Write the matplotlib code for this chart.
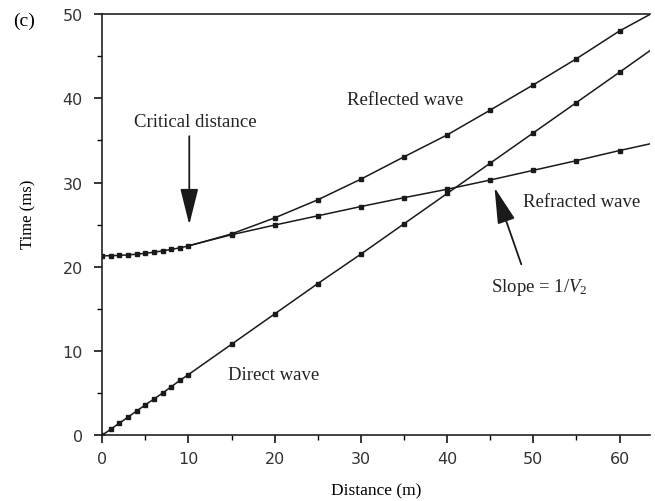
import matplotlib
matplotlib.use("Agg")
import matplotlib.pyplot as plt
from matplotlib.ticker import MultipleLocator

plt.rcParams["mathtext.fontset"] = "custom"
plt.rcParams["mathtext.it"] = "Liberation Serif:italic"
plt.rcParams["mathtext.rm"] = "Liberation Serif"

# ---- data ----
x_direct = [0, 1, 2, 3, 4, 5, 6, 7, 8, 9, 10, 15, 20, 25, 30, 35, 40, 45, 50, 55, 60, 64]
t_direct = [0, 0.72, 1.44, 2.16, 2.88, 3.6, 4.3, 5.0, 5.75, 6.5, 7.2, 10.8, 14.4, 18.0,
            21.5, 25.1, 28.7, 32.3, 35.9, 39.5, 43.1, 46.0]

x_reflected = [0, 1, 2, 3, 4, 5, 6, 7, 8, 9, 10, 15, 20, 25, 30, 35, 40, 45, 50, 55, 60, 63.6]
t_reflected = [21.3, 21.31, 21.35, 21.41, 21.49, 21.6, 21.73, 21.88, 22.05, 22.25, 22.46,
               23.9, 25.8, 27.95, 30.4, 33.05, 35.65, 38.6, 41.6, 44.7, 48.0, 50.0]

x_refracted = [10, 15, 20, 25, 30, 35, 40, 45, 50, 55, 60, 64]
t_refracted = [22.5, 23.8, 24.95, 26.05, 27.15, 28.2, 29.2, 30.3, 31.45, 32.6, 33.8, 34.7]

x_ticks = [0, 10, 20, 30, 40, 50, 60]
y_ticks = [0, 10, 20, 30, 40, 50]

serif = "Liberation Serif"
sans = "DejaVu Sans"

fig = plt.figure(figsize=(6.55, 5.02), dpi=100)
ax = fig.add_axes([0.156, 0.131, 0.836, 0.839])

line_kw = dict(color="#1a1a1a", lw=1.1, marker="s", ms=3.4, mfc="#1a1a1a", mec="#1a1a1a")
ax.plot(x_direct, t_direct, markevery=list(range(len(x_direct) - 1)), **line_kw)
ax.plot(x_reflected, t_reflected, markevery=list(range(len(x_reflected) - 1)), **line_kw)
ax.plot(x_refracted, t_refracted, markevery=list(range(1, len(x_refracted) - 1)), **line_kw)

ax.set_xlim(0, 63.5)
ax.set_ylim(0, 50)
ax.set_xticks(x_ticks)
ax.set_yticks(y_ticks)
ax.xaxis.set_minor_locator(MultipleLocator(5))
ax.yaxis.set_minor_locator(MultipleLocator(5))
ax.tick_params(which="major", direction="out", length=6, width=1.1, labelsize=11.5)
ax.tick_params(axis="y", which="major", pad=8)
ax.tick_params(axis="x", which="major", pad=5)
ax.tick_params(which="minor", direction="out", length=3.5, width=1.0)
ax.tick_params(top=False, right=False, which="both")
for lab in ax.get_xticklabels() + ax.get_yticklabels():
    lab.set_fontfamily(sans)
    lab.set_color("#333333")
ax.spines["right"].set_visible(False)
for s in ("left", "bottom", "top"):
    ax.spines[s].set_linewidth(1.2)
    ax.spines[s].set_color("#222222")

ax.set_xlabel("Distance (m)", fontfamily=serif, fontsize=12.5, labelpad=12)
fig.text(28 / 655, 1 - 214 / 502, "Time (ms)", fontfamily=serif, fontsize=12,
         rotation=90, ha="center", va="center")

fig.text(13 / 655, 1 - 21 / 502, "(c)", fontfamily=serif, fontsize=14,
         ha="left", va="center")

tkw = dict(fontfamily=serif, fontsize=13.5, color="#222222")
ax.text(10.8, 37.3, "Critical distance", ha="center", va="center", **tkw)
ax.annotate("", xy=(10.1, 25.0), xytext=(10.1, 35.5),
            arrowprops=dict(arrowstyle="-|>,head_length=1.6,head_width=0.4",
                            color="#1a1a1a", lw=1.3, mutation_scale=14,
                            shrinkA=0, shrinkB=0))
ax.text(28.4, 39.9, "Reflected wave", ha="left", va="center", **tkw)
ax.text(48.8, 27.8, "Refracted wave", ha="left", va="center", **tkw)
ax.text(14.6, 7.2, "Direct wave", ha="left", va="center", **tkw)
ax.text(45.1, 17.7, r"Slope = 1/$V_2$", ha="left", va="center", **tkw)
ax.annotate("", xy=(45.5, 29.4), xytext=(48.6, 20.3),
            arrowprops=dict(arrowstyle="-|>,head_length=1.6,head_width=0.4",
                            color="#1a1a1a", lw=1.3, mutation_scale=14,
                            shrinkA=0, shrinkB=0))

fig.savefig("out.png", dpi=100)
